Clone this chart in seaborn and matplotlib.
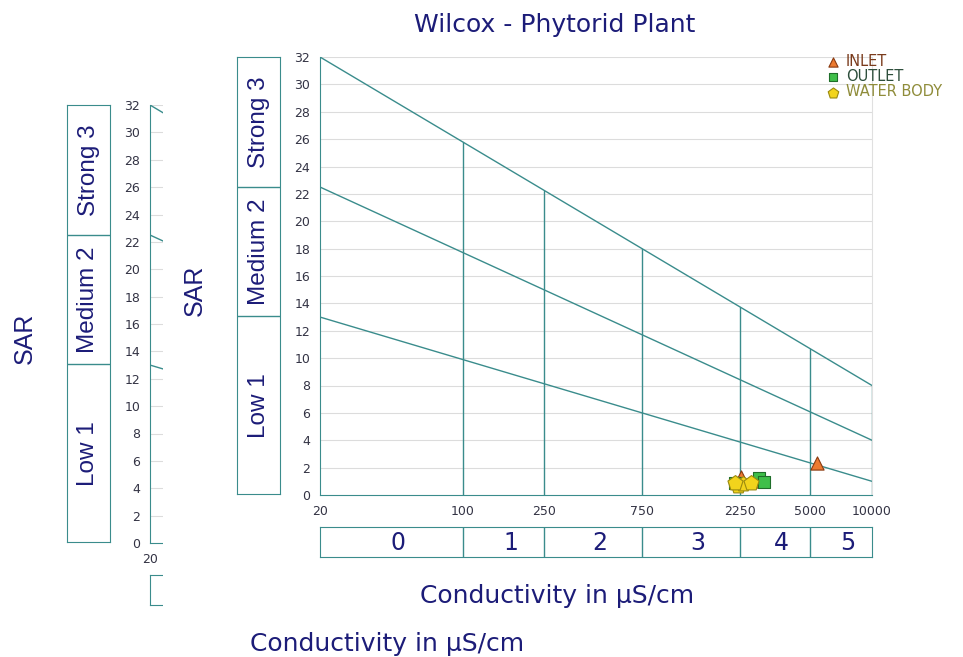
import math
import pandas as pd
import seaborn as sns
import matplotlib.pyplot as plt
from matplotlib.patches import Rectangle
from matplotlib.ticker import NullLocator

sns.set_style("white")
plt.rcParams['font.family'] = ['Liberation Sans', 'DejaVu Sans']
WIDE = ['DejaVu Sans']   # the screenshot is stretched sideways, so horizontal text runs wide

title = "Wilcox - Phytorid Plant"
xlabel = "Conductivity in µS/cm"
ylabel = "SAR"

# class boundaries of the diagram
ec_bounds = [20, 100, 250, 750, 2250, 5000, 10000]
ec_classes = ["0", "1", "2", "3", "4", "5"]
sar_bounds = [0, 13, 22.5, 32]
sar_classes = ["Low 1", "Medium 2", "Strong 3"]
line_left = [13, 22.5, 32]    # SAR at 20 uS/cm
line_right = [1, 4, 8]        # SAR at 10000 uS/cm
yticks = list(range(0, 33, 2))

# samples
sample = ["INLET", "INLET", "INLET",
          "OUTLET", "OUTLET", "OUTLET",
          "WATER BODY", "WATER BODY", "WATER BODY", "WATER BODY"]
ec = [2300, 2850, 5380,
      2150, 2800, 2980,
      2200, 2350, 2550, 2150]
sar = [1.3, 1.0, 2.35,
       0.85, 1.25, 0.95,
       0.65, 0.8, 0.9, 0.9]
df = pd.DataFrame({"sample": sample, "ec": ec, "sar": sar})

# marker, face, edge, legend text colour, size
styles = {"INLET": ("^", "#ec7a30", "#8a3a10", "#7a3b1c", 90),
          "OUTLET": ("s", "#3fbf4a", "#1f6e2a", "#2e4f3c", 80),
          "WATER BODY": ("p", "#f2d41c", "#9a8a10", "#8f8c3a", 130)}

teal = "#3a8c8c"
navy = "#1c1c78"
tickc = "#333344"

W, H = 963, 657
fig = plt.figure(figsize=(W / 100, H / 100), dpi=100)


def box(l, t, r, b):
    return [l / W, 1 - b / H, (r - l) / W, (b - t) / H]


def fx(x):
    return x / W


def fy(y):
    return 1 - y / H


def top_line(x):
    f = (math.log10(x) - math.log10(ec_bounds[0])) / (math.log10(ec_bounds[-1]) - math.log10(ec_bounds[0]))
    return line_left[-1] + (line_right[-1] - line_left[-1]) * f


def draw(dx, dy, z, ghost=False):
    ax = fig.add_axes(box(320 + dx, 57 + dy, 872 + dx, 495 + dy))
    ax.set_zorder(z)
    ax.set_xscale("log")
    ax.set_xlim(ec_bounds[0], ec_bounds[-1])
    ax.set_ylim(0, 32)
    ax.xaxis.set_minor_locator(NullLocator())
    ax.set_xticks(ec_bounds)
    if ghost:
        ax.set_xticklabels([str(ec_bounds[0])] + [""] * (len(ec_bounds) - 1))
    else:
        ax.set_xticklabels([str(v) for v in ec_bounds])
    ax.set_yticks(yticks)
    ax.tick_params(axis="both", labelsize=9, labelcolor=tickc, length=5,
                   color="#b0b0b0", width=0.8, direction="out", pad=2)
    for lab in ax.get_xticklabels() + ax.get_yticklabels():
        lab.set_family(WIDE)
    for y in yticks[1:]:
        ax.axhline(y, color="#dcdcdc", lw=0.8, zorder=0)
    ax.spines["top"].set_visible(False)
    ax.spines["right"].set_color("#e0e0e0")
    ax.spines["left"].set_color(teal)
    ax.spines["bottom"].set_color(teal)

    for a, b in zip(line_left, line_right):
        ax.plot([ec_bounds[0], ec_bounds[-1]], [a, b], color=teal, lw=1.0)
    for x in ec_bounds[1:]:
        ax.plot([x, x], [0, top_line(x)], color=teal, lw=1.0)

    for name in styles:
        m, fc, edge, tc, size = styles[name]
        sns.scatterplot(data=df[df["sample"] == name], x="ec", y="sar",
                        marker=m, color=fc, edgecolor=edge, linewidth=0.8,
                        s=size, label=name, ax=ax, zorder=5, clip_on=False)
    ax.set_xlabel("")
    ax.set_ylabel("")
    if ghost:
        ax.get_legend().remove()
    else:
        ax.legend(loc="upper left", bbox_to_anchor=(fx(818), fy(48)),
                  bbox_transform=fig.transFigure, frameon=False,
                  prop={"family": WIDE, "size": 10.5},
                  markerscale=0.7, handlelength=1.2, handletextpad=0.3,
                  labelspacing=0.02, borderaxespad=0,
                  labelcolor=[styles[k][3] for k in styles])

    # SAR class boxes
    bs = fig.add_axes(box(237 + dx, 57 + dy, 280 + dx, 494 + dy))
    bs.set_zorder(z)
    bs.set_ylim(0, 32)
    bs.set_xlim(0, 1)
    bs.set_xticks([])
    bs.set_yticks([])
    for s in bs.spines.values():
        s.set_color(teal)
    for (lo, hi), name in zip(zip(sar_bounds[:-1], sar_bounds[1:]), sar_classes):
        if lo > 0:
            bs.axhline(lo, color=teal, lw=1.0)
        bs.text(0.5, (lo + hi) / 2, name, rotation=90, ha="center", va="center",
                fontsize=17.5, color=navy)

    # EC class boxes
    be = fig.add_axes(box(320 + dx, 527 + dy, 872 + dx, 557 + dy))
    be.set_zorder(z)
    be.set_xscale("log")
    be.set_xlim(ec_bounds[0], ec_bounds[-1])
    be.set_ylim(0, 1)
    be.xaxis.set_minor_locator(NullLocator())
    be.set_xticks([])
    be.set_yticks([])
    for s in be.spines.values():
        s.set_color(teal)
    for lo, hi, name in zip(ec_bounds[:-1], ec_bounds[1:], ec_classes):
        if lo > ec_bounds[0]:
            be.axvline(lo, color=teal, lw=1.0)
        if not ghost:
            be.text((lo * hi) ** 0.5 * 1.08, 0.45, name, ha="center", va="center",
                    fontsize=17, color=navy, family=WIDE)

    if not ghost:
        ax.text(fx(555), fy(25), title, transform=fig.transFigure,
                ha="center", va="center", fontsize=18, color=navy, family=WIDE)
    ax.text(fx(557 + dx), fy(596 + dy), xlabel, transform=fig.transFigure,
            ha="center", va="center", fontsize=18, color=navy, family=WIDE)
    ax.text(fx(195 + dx), fy(290 + dy), ylabel, transform=fig.transFigure,
            ha="center", va="center", fontsize=18, color=navy, rotation=90)


# screenshot ghost behind the chart
draw(-170, 48, 1, ghost=True)
cover = fig.add_axes(box(163, 0, 963, 624))
cover.set_zorder(2)
cover.set_axis_off()
cover.add_patch(Rectangle((0, 0), 1, 1, transform=cover.transAxes,
                          color="white", zorder=0))
draw(0, 0, 3)

plt.savefig("out.png", dpi=100)
plt.close()
